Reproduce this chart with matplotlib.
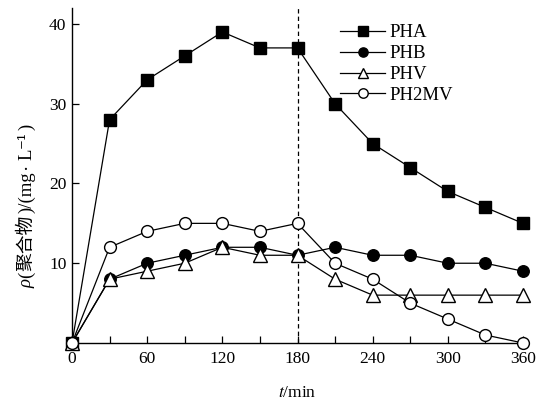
import matplotlib
matplotlib.use("Agg")
import matplotlib.pyplot as plt
from matplotlib.ticker import MultipleLocator

plt.rcParams['font.family'] = ['Liberation Serif', 'Noto Sans CJK SC']
plt.rcParams['mathtext.fontset'] = 'stix'

t = [0, 30, 60, 90, 120, 150, 180, 210, 240, 270, 300, 330, 360]
pha = [0, 28, 33, 36, 39, 37, 37, 30, 25, 22, 19, 17, 15]
phb = [0, 8, 10, 11, 12, 12, 11, 12, 11, 11, 10, 10, 9]
phv = [0, 8, 9, 10, 12, 11, 11, 8, 6, 6, 6, 6, 6]
ph2mv = [0, 12, 14, 15, 15, 14, 15, 10, 8, 5, 3, 1, 0]
x_ticks = [0, 60, 120, 180, 240, 300, 360]
y_ticks = [10, 20, 30, 40]
cut_time = 180

fig = plt.figure(figsize=(5.39, 4.12), dpi=100)
ax = fig.add_axes([0.1336, 0.1675, 0.8367, 0.813])

kw = dict(color='black', linewidth=0.9, clip_on=False, zorder=3)
ax.plot(t, pha, marker='s', markersize=8.5, markerfacecolor='black', label='PHA', **kw)
ax.plot(t, phb, marker='o', markersize=8.3, markerfacecolor='black', label='PHB', **kw)
ax.plot(t, phv, marker='^', markersize=9.5, markerfacecolor='white', label='PHV', **kw)
ax.plot(t, ph2mv, marker='o', markersize=8.5, markerfacecolor='white', label='PH2MV', **kw)

ax.axvline(cut_time, color='black', linestyle=(0, (3.5, 2.5)), linewidth=0.9, zorder=1)

ax.set_xlim(0, 360)
ax.set_ylim(0, 42)
ax.set_xticks(x_ticks)
ax.xaxis.set_minor_locator(MultipleLocator(30))
ax.set_yticks(y_ticks)
ax.tick_params(axis='both', which='both', direction='in', labelsize=12.5, width=0.9)
ax.tick_params(axis='x', which='both', length=5, pad=6)
ax.tick_params(axis='y', which='both', length=5, pad=4)
ax.spines['top'].set_visible(False)
ax.spines['right'].set_visible(False)
for s in ['left', 'bottom']:
    ax.spines[s].set_linewidth(1.0)

ax.set_xlabel(r'$t$/min', fontsize=12.5, labelpad=13)

# y label built from pieces on a common baseline (bottom to top)
serif = ['Liberation Serif', 'DejaVu Serif']
cjk = ['Noto Sans CJK SC', 'DejaVu Sans']
fs = 13.5
pieces = [
    ('ρ', dict(fontsize=fs, style='italic', family=serif), 0.5),
    ('(', dict(fontsize=fs, family=serif), 1.5),
    ('聚合物', dict(fontsize=13.5, family=cjk), 1.5),
    (')/(mg', dict(fontsize=fs, family=serif), 2.5),
    ('·', dict(fontsize=fs, family=serif), 2.5),
    ('L', dict(fontsize=fs, family=serif), 0.5),
    ('⁻¹', dict(fontsize=fs, family=['DejaVu Serif']), 0.5),
    (')', dict(fontsize=fs, family=serif), 0),
]
renderer = fig.canvas.get_renderer()
bx = 31
by = 288
for txt, props, gap in pieces:
    tobj = fig.text(bx / 539, 1 - by / 412, txt, rotation=90, rotation_mode='anchor',
                    ha='left', va='baseline', **props)
    ext = tobj.get_window_extent(renderer)
    by -= ext.height + gap

leg = ax.legend(loc='upper left', bbox_to_anchor=(0.57, 0.985), frameon=False,
                fontsize=13.5, handlelength=2.4, labelspacing=0.2, markerscale=0.8,
                handletextpad=0.2, borderaxespad=0.2)

fig.savefig('out.png', dpi=100)
